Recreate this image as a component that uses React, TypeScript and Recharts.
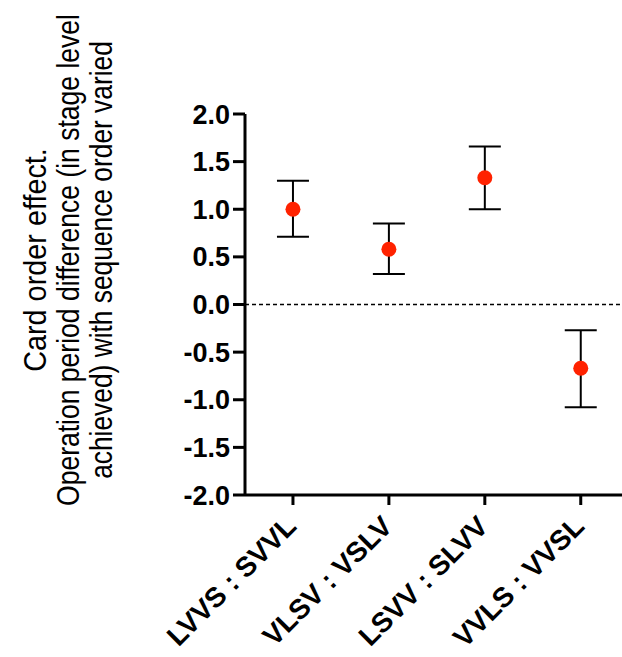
import React from "react"
import { ComposedChart, Scatter, ErrorBar, XAxis, YAxis, ReferenceLine } from "recharts"

const categories = ["LVVS : SVVL", "VLSV : VSLV", "LSVV : SLVV", "VVLS : VVSL"]
const means = [1.0, 0.58, 1.33, -0.67]
const lowers = [0.71, 0.32, 1.0, -1.08]
const uppers = [1.3, 0.85, 1.66, -0.27]
const yTicks = [-2, -1.5, -1, -0.5, 0, 0.5, 1, 1.5, 2]
const titleLines = [
  "Card order effect.",
  "Operation period difference (in stage level",
  "achieved) with sequence order varied",
]

const data = categories.map((name, i) => ({
  x: i,
  name,
  y: means[i],
  err: [means[i] - lowers[i], uppers[i] - means[i]],
}))

const font = "'Liberation Sans', Arial, Helvetica, sans-serif"

function XTick(props: any) {
  const { x, y, payload } = props
  const ax = x + 5
  const ay = y + 21
  return (
    <text
      x={ax}
      y={ay}
      transform={`rotate(-45 ${ax} ${ay})`}
      textAnchor="end"
      fontFamily={font}
      fontWeight="bold"
      fontSize={28}
      fill="#000"
    >
      {categories[payload.value]}
    </text>
  )
}

// the original title uses a narrow face, so squeeze each line along its length
function YTitle() {
  const cy = 260
  const baselines = [46, 79, 112]
  const squeeze = [0.93, 0.856, 0.85]
  return (
    <g>
      {titleLines.map((line, i) => (
        <g key={i} transform={`translate(${baselines[i]} ${cy}) rotate(-90) scale(${squeeze[i]} 1)`}>
          <text x={0} y={0} textAnchor="middle" fontFamily={font} fontSize={31} fill="#000">
            {line}
          </text>
        </g>
      ))}
    </g>
  )
}

const Dot = (p: any) => <circle cx={p.cx} cy={p.cy} r={7.5} fill="#FF2200" />

export default function App() {
  return (
    <div style={{ position: "absolute", left: 0, top: 0, background: "#fff" }}>
      <ComposedChart width={622} height={657} data={data} margin={{ top: 114, right: 0, bottom: 0, left: 0 }}>
        <XAxis
          dataKey="x"
          type="number"
          domain={[-0.5, 3.43]}
          ticks={[0, 1, 2, 3]}
          height={162}
          axisLine={{ stroke: "#000", strokeWidth: 3 }}
          tickLine={{ stroke: "#000", strokeWidth: 3 }}
          tickSize={10}
          tickMargin={2}
          tick={<XTick />}
          interval={0}
        />
        <YAxis
          type="number"
          domain={[-2, 2]}
          ticks={yTicks}
          width={245}
          axisLine={{ stroke: "#000", strokeWidth: 3 }}
          tickLine={{ stroke: "#000", strokeWidth: 3 }}
          tickSize={12}
          tickMargin={3}
          tickFormatter={(v: number) => v.toFixed(1)}
          tick={{ fill: "#000", fontFamily: font, fontWeight: "bold", fontSize: 27 }}
          interval={0}
          label={<YTitle />}
        />
        <ReferenceLine y={0} stroke="#000" strokeWidth={1.5} strokeDasharray="4 3" />
        <Scatter dataKey="y" shape={Dot} isAnimationActive={false}>
          <ErrorBar dataKey="err" direction="y" width={16} stroke="#000" strokeWidth={2} />
        </Scatter>
      </ComposedChart>
    </div>
  )
}
